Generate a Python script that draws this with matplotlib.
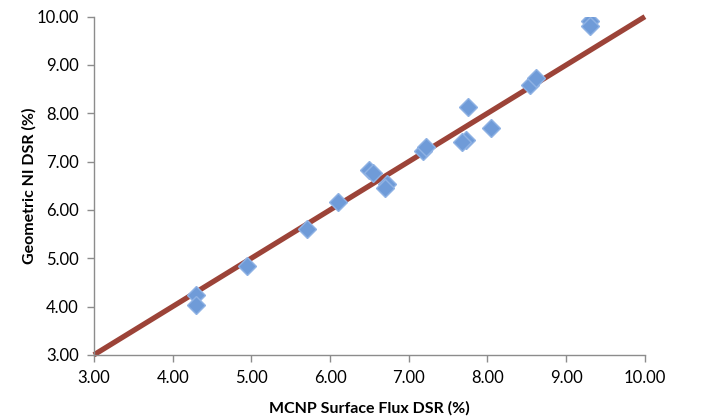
import numpy as np
import matplotlib
matplotlib.use("Agg")
from matplotlib import pyplot as plt

plt.rcParams['font.family'] = ['Lato', 'DejaVu Sans']

# MCNP surface flux DSR vs geometric NI DSR (%)
mcnp_dsr = [4.30, 4.30, 4.95, 5.71, 6.10, 6.49, 6.55, 6.72, 6.70, 7.18, 7.22,
            7.73, 7.68, 7.75, 8.04, 8.54, 8.62, 9.30, 9.30]
geom_dsr = [4.24, 4.03, 4.84, 5.60, 6.17, 6.82, 6.76, 6.54, 6.46, 7.22, 7.30,
            7.45, 7.40, 8.13, 7.70, 8.58, 8.73, 9.92, 9.81]
ref_line = [3.0, 10.0]
ticks = [3, 4, 5, 6, 7, 8, 9, 10]

fig = plt.figure(figsize=(7.01, 4.16), dpi=100)
ax = fig.add_axes([0.134, 0.147, 0.786, 0.813])

ax.plot(ref_line, ref_line, color='#9c4338', lw=3.8, solid_capstyle='butt',
        clip_on=False, zorder=2)
ax.plot(mcnp_dsr, geom_dsr, linestyle='none', marker='D', markersize=9.5,
        markerfacecolor='#6f9bd8', markeredgecolor='#8fb2e4', markeredgewidth=1.0,
        zorder=3)

ax.set_xlim(3, 10)
ax.set_ylim(3, 10)
ax.set_xticks(ticks)
ax.set_yticks(ticks)
ax.set_xticklabels(['%.2f' % t for t in ticks])
ax.set_yticklabels(['%.2f' % t for t in ticks])
ax.tick_params(axis='both', direction='out', length=5, width=1, color='#8c8c8c',
               labelsize=12)
ax.tick_params(axis='x', pad=6)
ax.tick_params(axis='y', pad=6)

for side in ['top', 'right']:
    ax.spines[side].set_visible(False)
for side in ['left', 'bottom']:
    ax.spines[side].set_color('#8c8c8c')
    ax.spines[side].set_linewidth(1)

ax.set_xlabel('MCNP Surface Flux DSR (%)', fontsize=11.5, fontweight='bold', labelpad=11)
ax.set_ylabel('Geometric NI DSR (%)', fontsize=11.5, fontweight='bold', labelpad=0)

fig.savefig('out.png', dpi=100)
